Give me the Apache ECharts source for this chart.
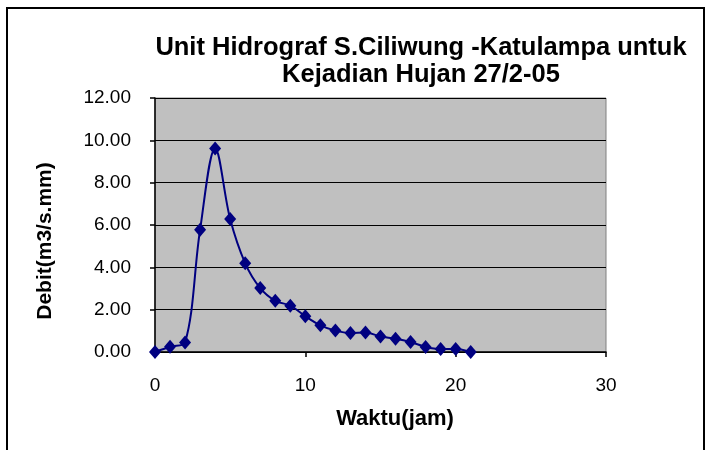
<!DOCTYPE html>
<html>
<head>
<meta charset="utf-8">
<script src="https://cdn.jsdelivr.net/npm/echarts@6/dist/echarts.min.js"></script>
<style>
html,body{margin:0;padding:0;background:#fff;}
#chart{width:707px;height:450px;}
</style>
</head>
<body>
<div id="chart"></div>
<script>
var titleText = 'Unit Hidrograf S.Ciliwung -Katulampa untuk\nKejadian Hujan 27/2-05';
var xName = 'Waktu(jam)';
var yName = 'Debit(m3/s.mm)';
var hours = [0,1,2,3,4,5,6,7,8,9,10,11,12,13,14,15,16,17,18,19,20,21];
var debit = [0.00,0.25,0.45,5.78,9.62,6.28,4.19,3.02,2.42,2.19,1.69,1.26,1.01,0.90,0.92,0.73,0.63,0.47,0.24,0.14,0.14,0.00];
var xTicks = [0,10,20,30];
var yTicks = [0,2,4,6,8,10,12];

var chart = echarts.init(document.getElementById('chart'));
var pts = hours.map(function(h,i){return [h, debit[i]];});
var fontFam = '"Liberation Sans", Arial, sans-serif';
chart.setOption({
  animation:false,
  backgroundColor:'#ffffff',
  title:{
    text: titleText,
    left: 416,
    top: 29,
    textAlign:'center',
    textStyle:{fontFamily:fontFam,fontSize:25.5,fontWeight:'bold',color:'#000',lineHeight:27}
  },
  graphic:[{
    type:'rect',
    shape:{x:7,y:8,width:697,height:470},
    style:{fill:'none',stroke:'#000',lineWidth:2},
    silent:true
  },{
    type:'text',
    x:395, y:419,
    style:{text:xName, align:'center', verticalAlign:'middle',
      font:'bold 22px "Liberation Sans", Arial, sans-serif', fill:'#000'},
    silent:true
  },{
    type:'text',
    x:45, y:241,
    rotation:Math.PI/2,
    style:{text:yName, align:'center', verticalAlign:'middle',
      font:'bold 21px "Liberation Sans", Arial, sans-serif', fill:'#000'},
    silent:true
  }],
  grid:{
    left:155, right:101, top:98, bottom:98,
    show:true, backgroundColor:'#C0C0C0', borderColor:'#808080', borderWidth:1
  },
  xAxis:{
    type:'value', min:xTicks[0], max:xTicks[xTicks.length-1], interval:10,
    axisLine:{show:true,onZero:false,lineStyle:{color:'#000',width:1.5}},
    axisTick:{show:true,inside:false,length:5,lineStyle:{color:'#000',width:1.5}},
    axisLabel:{fontFamily:fontFam,fontSize:19,color:'#000',margin:24,
      formatter:function(v){return xTicks.indexOf(v)>=0?String(v):'';}},
    splitLine:{show:false}
  },
  yAxis:{
    type:'value', min:yTicks[0], max:yTicks[yTicks.length-1], interval:2,
    axisLine:{show:true,onZero:false,lineStyle:{color:'#000',width:1.5}},
    axisTick:{show:true,inside:false,length:5,lineStyle:{color:'#000',width:1.5}},
    axisLabel:{fontFamily:fontFam,fontSize:19,color:'#000',margin:24,
      formatter:function(v){return v.toFixed(2);}},
    splitLine:{show:true,lineStyle:{color:'#000',width:1.2}}
  },
  series:[{
    type:'line',
    data:pts,
    smooth:0.35,
    symbol:'diamond',
    symbolSize:[12,14],
    lineStyle:{color:'#000080',width:2},
    itemStyle:{color:'#000080'},
    clip:false
  }]
});
</script>
</body>
</html>
